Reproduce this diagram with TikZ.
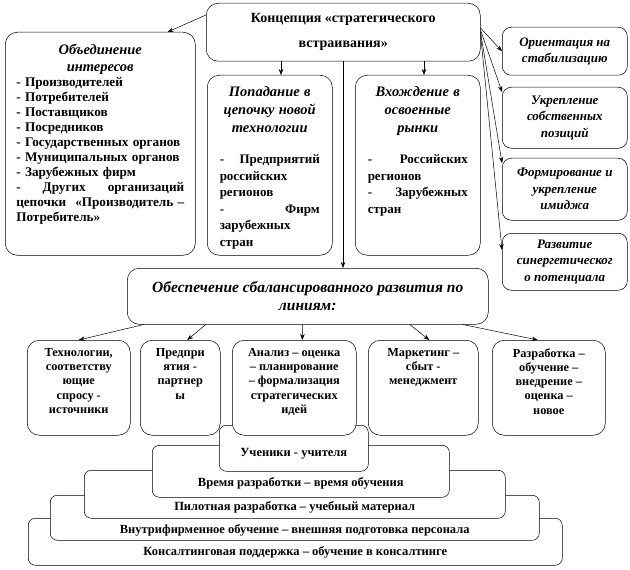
\documentclass[tikz,border=0pt]{standalone}
\usepackage{fontspec}
\setmainfont{Liberation Serif}
\usepackage{tikz}
\usetikzlibrary{arrows.meta}
\usetikzlibrary{positioning}

\begin{document}
\begin{tikzpicture}[x=1bp, y=-1bp,
        frame/.style={draw, line width=0.5bp, fill=white, rounded corners=12bp, anchor=north west, inner sep=0pt},
        lay/.style={frame, rounded corners=7bp},
        rbox/.style={frame, rounded corners=9bp, minimum width=125bp, align=center,
            font={\bfseries\itshape\fontsize{13bp}{16.5bp}\selectfont}},
        body/.style={inner sep=0pt, text width=100bp, align=left,
            font={\bfseries\fontsize{13bp}{16.5bp}\selectfont}},
        txt/.style={inner sep=0pt, align=center, font={\bfseries\fontsize{12.3bp}{14.3bp}\selectfont}},
        lbl/.style={inner sep=0pt, font={\bfseries\fontsize{12.5bp}{14bp}\selectfont}},
        arr/.style={line width=0.5bp, -{Stealth[length=6bp, width=4.5bp]}}]
        \useasboundingbox (0,0) rectangle (630,570);

        \node[frame, minimum width=274bp, minimum height=58bp, align=center,
            font={\bfseries\fontsize{14bp}{25bp}\selectfont}] (top) at (206,3)
            {Концепция «стратегического\\встраивания»};

        \node[frame, minimum width=190bp, minimum height=223bp] (obj) at (5,32) {};
        \node[below=12bp of obj.north, inner sep=0pt, text width=168bp, align=left,
            font={\bfseries\fontsize{13.2bp}{15bp}\selectfont}] (objt)
            {{\centering\fontsize{14.5bp}{17bp}\selectfont\itshape Объединение\\интересов\par}
            - Производителей\\
            - Потребителей\\
            - Поставщиков\\
            - Посредников\\
            - Государственных органов\\
            - Муниципальных органов\\
            - Зарубежных фирм\\
            -\hfill Других\hfill организаций\\
            цепочки\hfill «Производитель –\\
            Потребитель»};

        \node[frame, minimum width=125bp, minimum height=180bp] (pop) at (207,75) {};
        \node[below=11bp of pop.north, body] (popt)
            {{\centering\fontsize{14.5bp}{18bp}\selectfont\itshape Попадание в\\цепочку~новой\\технологии\par}
            \vspace{15bp}
            -\hfill Предприятий\\
            российских\\
            регионов\\
            -\hfill Фирм\\
            зарубежных\\
            стран};

        \node[frame, minimum width=125bp, minimum height=180bp] (vhod) at (355,75) {};
        \node[below=11bp of vhod.north, body] (vhodt)
            {{\centering\fontsize{14.5bp}{18bp}\selectfont\itshape Вхождение в\\освоенные\\рынки\par}
            \vspace{15bp}
            -\hfill Российских\\
            регионов\\
            -\hfill Зарубежных\\
            стран};

        \node[rbox, minimum height=48bp] (or) at (502,27) {Ориентация на\\стабилизацию};
        \node[rbox, minimum height=61bp] (uk) at (502,87) {Укрепление\\собственных\\позиций};
        \node[rbox, minimum height=62bp] (fi) at (502,158) {Формирование и\\укрепление\\имиджа};
        \node[rbox, minimum height=57bp] (rs) at (502,233) {Развитие\\синергетическог\\о потенциала};

        \node[frame, minimum width=361bp, minimum height=56bp, align=center,
            font={\bfseries\itshape\fontsize{15.5bp}{17.5bp}\selectfont}] (obes) at (127,268)
            {Обеспечение сбалансированного развития по\\линиям:};

        \node[lay, minimum width=534bp, minimum height=47bp] (l5) at (28,518) {};
        \node[lbl, above=7bp of l5.south] (l5t) {Консалтинговая поддержка – обучение в консалтинге};
        \node[lay, minimum width=489bp, minimum height=45bp] (l4) at (50,495) {};
        \node[lbl, above=4bp of l4.south] (l4t) {Внутрифирменное обучение – внешняя подготовка персонала};
        \node[lay, minimum width=421bp, minimum height=48bp] (l3) at (84,470) {};
        \node[lbl, above=5bp of l3.south] (l3t) {Пилотная разработка – учебный материал};
        \node[lay, minimum width=297bp, minimum height=52bp] (l2) at (152,445) {};
        \node[lbl, above=8bp of l2.south] (l2t) {Время разработки – время обучения};
        \node[lay, minimum width=149bp, minimum height=46bp] (l1) at (219,425) {};
        \node[lbl, above=12bp of l1.south] (l1t) {Ученики - учителя};

        \node[frame, minimum width=103bp, minimum height=95bp] (b1) at (27,340) {};
        \node[txt, below=8bp of b1.north] (b1t) {Технологии,\\соответству\\ющие\\спросу -\\источники};
        \node[frame, minimum width=80bp, minimum height=95bp] (b2) at (140,340) {};
        \node[txt, below=8bp of b2.north] (b2t) {Предпри\\ятия -\\партнер\\ы};
        \node[frame, minimum width=124bp, minimum height=95bp] (b3) at (232,340) {};
        \node[txt, below=8bp of b3.north] (b3t) {Анализ – оценка\\– планирование\\– формализация\\стратегических\\идей};
        \node[frame, minimum width=110bp, minimum height=95bp] (b4) at (368,340) {};
        \node[txt, below=8bp of b4.north] (b4t) {Маркетинг –\\сбыт -\\менеджмент};
        \node[frame, minimum width=113bp, minimum height=95bp] (b5) at (492,340) {};
        \node[txt, below=8bp of b5.north] (b5t) {Разработка –\\обучение –\\внедрение –\\оценка –\\новое};

        \coordinate (vx) at (343,0);
        \coordinate (a1) at (281,0);
        \coordinate (a2) at (424,0);
        \draw[arr] (vx |- top.south) -- (vx |- obes.north);
        \draw[arr] (a1 |- top.south) -- (a1 |- pop.north);
        \draw[arr] (a2 |- top.south) -- (a2 |- vhod.north);
        \draw[arr] ([yshift=-12bp]top.north west) -- ([xshift=-28bp]obj.north east);
        \draw[arr] ([yshift=-25bp]top.north east) -- (or.west);
        \draw[arr] ([yshift=-27bp]top.north east) -- ([yshift=-5bp]uk.north west);
        \draw[arr] ([yshift=-29bp]top.north east) -- ([yshift=-5bp]fi.north west);
        \draw[arr] ([yshift=-31bp]top.north east) -- ([yshift=-17bp]rs.north west);
        \draw[arr] ([xshift=-164bp]obes.south) -- (b1.north);
        \draw[arr] ([xshift=-102bp]obes.south) -- ([xshift=7bp]b2.north);
        \draw[arr] ([xshift=-5bp]obes.south) -- ([xshift=8bp]b3.north);
        \draw[arr] ([xshift=102bp]obes.south) -- ([xshift=6bp]b4.north);
        \draw[arr] ([xshift=155bp]obes.south) -- ([xshift=-11bp]b5.north);
\end{tikzpicture}
\end{document}
